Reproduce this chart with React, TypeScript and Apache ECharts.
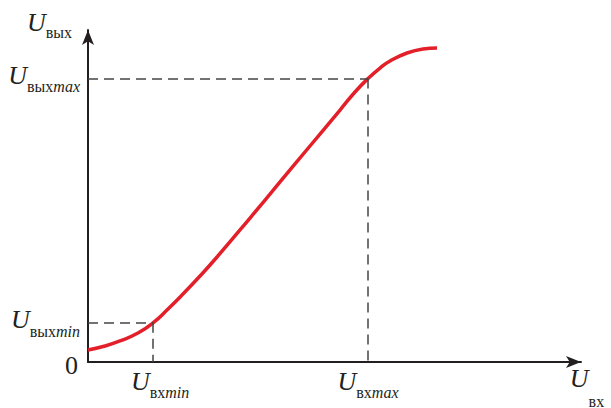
import React, { useEffect, useRef } from "react";
import * as echarts from "echarts";

// Transfer characteristic (schematic units)
const xIn = [0, 3.45, 6.49, 10.14, 13.18, 16.23, 19.27, 22.72, 26.17, 32.86, 38.95, 45.03, 51.12, 54.16, 56.8, 59.23, 61.26, 64.71, 67.95, 70.79];
const yOut = [3.61, 4.82, 6.33, 8.73, 11.75, 15.96, 20.48, 25.9, 31.63, 43.37, 54.22, 65.06, 75.9, 81.33, 85.39, 88.55, 90.66, 93.07, 94.28, 94.58];

const xMin = 13.2;
const xMax = 56.8;
const yMin = 11.8;
const yMax = 85.4;

const xTickValues = [xMin, xMax];
const yTickValues = [0, yMin, yMax];

const FONT = "'Liberation Serif', 'Times New Roman', serif";
const TXT = "#231f20";

const subBase = {
  fontFamily: FONT,
  fontSize: 16,
  color: TXT,
  lineHeight: 16,
  height: 7.2,
  verticalAlign: "bottom",
};

const richCommon: any = {
  u: { fontFamily: FONT, fontStyle: "italic", fontSize: 26, lineHeight: 30, color: TXT },
  uMin: { fontFamily: FONT, fontStyle: "italic", fontSize: 26, lineHeight: 30, color: TXT, padding: [0, 0, 0, 14] },
  uMax: { fontFamily: FONT, fontStyle: "italic", fontSize: 26, lineHeight: 30, color: TXT, padding: [0, 0, 0, 0] },
  s: { ...subBase },
  i: { ...subBase, fontStyle: "italic" },
  z: { fontFamily: FONT, fontSize: 26, color: TXT, lineHeight: 30, padding: [12, 2, 0, 0] },
};

export default function App() {
  const ref = useRef<HTMLDivElement>(null);
  useEffect(() => {
    if (!ref.current) return;
    const chart = echarts.init(ref.current, null, { renderer: "svg" });
    const data = xIn.map((x, k) => [x, yOut[k]]);
    chart.setOption({
      animation: false,
      backgroundColor: "#ffffff",
      grid: { left: 88, right: 30, top: 30, bottom: 46, containLabel: false, outerBoundsMode: "none" },
      xAxis: {
        type: "value",
        min: 0,
        max: 100,
        name: "{u|U}{s|вх}",
        nameLocation: "end",
        nameGap: 6,
        nameTextStyle: {
          align: "center",
          verticalAlign: "top",
          padding: [3, 0, 0, 0],
          rich: {
            u: { fontFamily: FONT, fontStyle: "italic", fontSize: 26, color: TXT, verticalAlign: "top" },
            s: { fontFamily: FONT, fontSize: 16, color: TXT, lineHeight: 37, height: 2, verticalAlign: "bottom" },
          },
        },
        axisLine: {
          show: true,
          symbol: ["none", "arrow"],
          symbolSize: [9, 15],
          lineStyle: { color: "#231f20", width: 2 },
        },
        axisTick: { show: false },
        splitLine: { show: false },
        axisLabel: {
          customValues: xTickValues,
          margin: 4,
          verticalAlign: "top",
          formatter: (v: number) =>
            Math.abs(v - xMin) < 1e-6 ? "{uMin|U}{s|вх}{i|min}" : "{uMax|U}{s|вх}{i|max}",
          rich: richCommon,
        },
      },
      yAxis: {
        type: "value",
        min: 0,
        max: 100,
        name: "{u|U}{s|вых}",
        nameLocation: "end",
        nameGap: 8,
        nameTextStyle: {
          align: "right",
          verticalAlign: "middle",
          padding: [0, 16, 0, 0],
          rich: { ...richCommon, s: { ...subBase, height: 9.2 } },
        },
        axisLine: {
          show: true,
          symbol: ["none", "arrow"],
          symbolSize: [9, 15],
          lineStyle: { color: "#231f20", width: 2 },
        },
        axisTick: { show: false },
        splitLine: { show: false },
        axisLabel: {
          customValues: yTickValues,
          margin: 8,
          padding: [0, 0, 6, 0],
          formatter: (v: number) => {
            if (v === 0) return "{z|0}";
            return Math.abs(v - yMin) < 1e-6 ? "{u|U}{s|вых}{i|min}" : "{u|U}{s|вых}{i|max}";
          },
          rich: richCommon,
        },
      },
      series: [
        {
          type: "line",
          data,
          smooth: true,
          symbol: "none",
          lineStyle: { color: "#e3202a", width: 3.5 },
          markLine: {
            silent: true,
            symbol: ["none", "none"],
            label: { show: false },
            lineStyle: { color: "#444444", type: [10, 6], width: 1.5 },
            data: [
              [{ coord: [0, yMin] }, { coord: [xMin, yMin] }],
              [{ coord: [xMin, yMin] }, { coord: [xMin, 0] }],
              [{ coord: [0, yMax] }, { coord: [xMax, yMax] }],
              [{ coord: [xMax, yMax] }, { coord: [xMax, 0] }],
            ],
          },
        },
      ],
    });
    return () => chart.dispose();
  }, []);
  return (
    <div
      ref={ref}
      style={{ position: "fixed", left: 0, top: 0, width: 611, height: 408 }}
    />
  );
}
